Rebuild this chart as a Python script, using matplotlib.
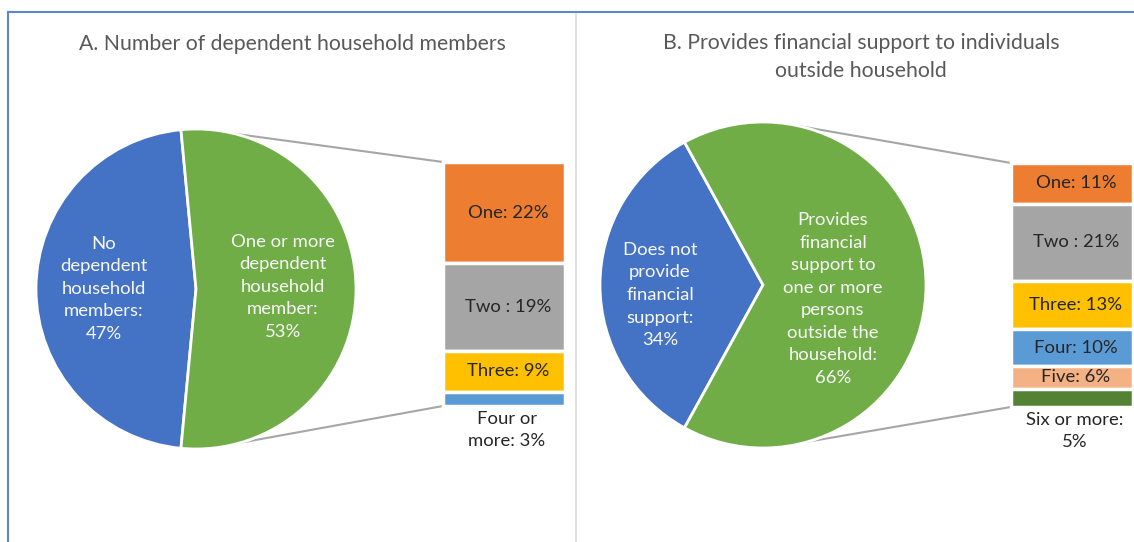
import numpy as np
import matplotlib.pyplot as plt

# ---- data ----
pie_a_labels = ['No\ndependent\nhousehold\nmembers:\n47%',
                'One or more\ndependent\nhousehold\nmember:\n53%']
pie_a_values = [47, 53]
bar_a_labels = ['One: 22%', 'Two : 19%', 'Three: 9%', 'Four or\nmore: 3%']
bar_a_values = [22, 19, 9, 3]

pie_b_labels = ['Does not\nprovide\nfinancial\nsupport:\n34%',
                'Provides\nfinancial\nsupport to\none or more\npersons\noutside the\nhousehold:\n66%']
pie_b_values = [34, 66]
bar_b_labels = ['One: 11%', 'Two : 21%', 'Three: 13%', 'Four: 10%', 'Five: 6%',
                'Six or more:\n5%']
bar_b_values = [11, 21, 13, 10, 6, 5]

title_a = 'A. Number of dependent household members'
title_b = 'B. Provides financial support to individuals\noutside household'

pie_colors = ['#4472C4', '#70AD47']
bar_colors = ['#ED7D31', '#A5A5A5', '#FFC000', '#5B9BD5', '#F4B183', '#548235']

plt.rcParams['font.family'] = ['Lato', 'DejaVu Sans']

W, H = 1134, 542
fig = plt.figure(figsize=(W / 100, H / 100), dpi=100)
ax = fig.add_axes([0, 0, 1, 1])


def draw_panel(ax, pvals, plabels, plabel_pos, bvals, blabels, center, radius,
               bar_left, bar_top, bar_bottom, ang_top, ang_bot):
    start = 180 - pvals[0] * 1.8
    ax.pie(pvals, colors=pie_colors, center=center, radius=radius,
           startangle=start, counterclock=True,
           wedgeprops=dict(edgecolor='white', linewidth=2))
    for lab, (x, y) in zip(plabels, plabel_pos):
        ax.text(x, y, lab, ha='center', va='center', color='#F8F8F8',
                fontsize=13.3, linespacing=1.5)

    width = 122
    xc = bar_left + width / 2
    scale = (bar_top - bar_bottom) / sum(bvals)
    top = bar_top
    for i, (v, lab) in enumerate(zip(bvals, blabels)):
        h = v * scale
        ax.bar(xc, h, width=width, bottom=top - h, color=bar_colors[i],
               edgecolor='white', linewidth=2.5)
        if i == len(bvals) - 1:
            ax.text(xc + 3, top - h - 24, lab, ha='center', va='center',
                    color='#262626', fontsize=13.3, linespacing=1.4)
        else:
            ax.text(xc + 4, top - h / 2, lab, ha='center', va='center',
                    color='#262626', fontsize=13.3)
        top -= h

    # connector lines
    cx, cy = center
    for ang, yb in [(ang_top, bar_top), (ang_bot, bar_bottom)]:
        a = np.radians(ang)
        ax.plot([cx + radius * np.cos(a), bar_left], [cy + radius * np.sin(a), yb],
                color='#A6A6A6', lw=1.5, zorder=0)


draw_panel(ax, pie_a_values, pie_a_labels, [(104, 253), (283, 255)],
           bar_a_values, bar_a_labels, (196, 253), 160,
           443, 380, 136, 76, -74)
draw_panel(ax, pie_b_values, pie_b_labels, [(660, 247), (833, 243)],
           bar_b_values, bar_b_labels, (763, 257), 163,
           1011, 379, 135, 77, -74)

ax.text(292, 498, title_a, ha='center', va='center', color='#595959', fontsize=15.3)
ax.text(861, 485, title_b, ha='center', va='center', color='#595959', fontsize=15.3,
        linespacing=1.5)

# frame lines
ax.plot([8, W], [H - 12, H - 12], color='#5B87D0', lw=1.5)
ax.plot([8, 8], [0, H - 12], color='#5B87D0', lw=1.5)
ax.plot([576, 576], [0, H - 14], color='#D9D9D9', lw=1.2)

ax.set_xlim(0, W)
ax.set_ylim(0, H)
ax.set_aspect('auto')
ax.axis('off')

fig.savefig('out.png', dpi=100)
